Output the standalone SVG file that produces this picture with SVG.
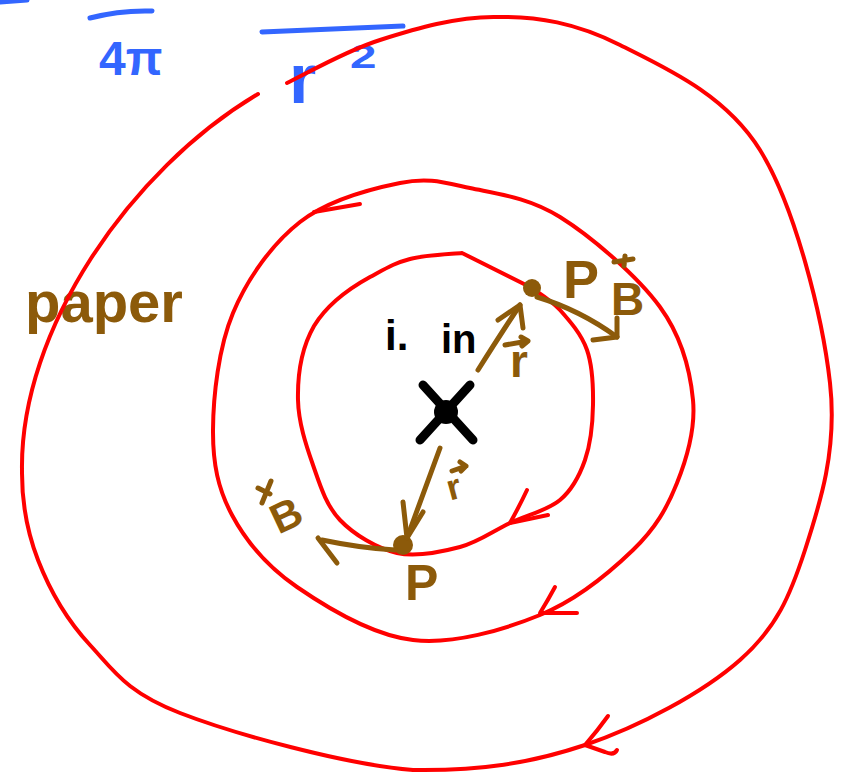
<svg xmlns="http://www.w3.org/2000/svg" width="843" height="776" viewBox="0 0 843 776">
<style>
.red{fill:none;stroke:#FF0000;stroke-width:4;stroke-linecap:round;stroke-linejoin:round}
.brn{fill:none;stroke:#8C5A0A;stroke-width:5;stroke-linecap:round;stroke-linejoin:round}
.blu{fill:none;stroke:#3366FF;stroke-width:5;stroke-linecap:round}
.tb{font-family:"Liberation Sans",Arial,sans-serif;fill:#8C5A0A;font-weight:bold}
.tl{font-family:"Liberation Sans",Arial,sans-serif;fill:#3366FF;font-weight:bold}
.tk{font-family:"Liberation Sans",Arial,sans-serif;fill:#000000;font-weight:bold}
</style>
<rect width="843" height="776" fill="#FFFFFF"/>
<g id="formula">
<path class="blu" d="M0,2 L27,0"/>
<path class="blu" d="M90,18 Q120,10 152,11"/>
<text class="tl" x="99" y="75" font-size="48">4π</text>
<path class="blu" d="M262,32 L403,26"/>
<text class="tl" x="289" y="103" font-size="70">r</text>
<text class="tl" x="350" y="68" font-size="34" transform="translate(350 0) scale(1.4 1) translate(-350 0)">2</text>
</g>
<g id="paper-label">
<text class="tb" x="25" y="322" font-size="58">paper</text>
</g>
<g id="field-lines">
<path id="outer" class="red" d="M287,83 C302.5,75.8 345,51 380,40 C415,29 457,16.2 497,17 C537,16.2 576.2,22.8 620,45 C663.8,67.2 725,93.7 760,150 C795,206.3 822.5,316.3 830,383 C837.5,449.7 820,503.8 805,550 C790,596.2 776.7,627.5 740,660 C703.3,692.5 639.5,726.7 585,745 C530.5,763.3 480,771 413,770 C345.5,764.7 233.8,733.8 180,713 C126.2,692.2 113.7,670.5 90,645 C66.3,619.5 49.3,589.2 38,560 C26.7,530.8 21.7,500 22,470 C20,330 130,170 258,94"/>
<path class="red" d="M608,716 Q598,730 585,745 L605,752 Q614,756 617,750"/>
<path id="middle" class="red" d="M400,183 C371.7,188.7 327.8,200.3 300,222 C272.2,243.7 247.5,278.3 233,313 C218.5,347.7 213.2,396.3 213,430 C212.8,463.7 218,488.8 232,515 C246,541.2 266.8,566.2 297,587 C327.2,607.8 372.5,635.3 413,640 C453.5,644.7 503.3,630 540,615 C576.7,600 610.2,572 633,550 C655.8,528 667,508 677,483 C687,458 695.8,429.3 693,400 C690.2,370.7 682.2,337.5 660,307 C637.8,276.5 591.7,236.8 560,217 C528.3,197.2 496.7,193.7 470,188 C443.3,182.3 428.3,177.3 400,183 Z"/>
<path class="red" d="M314,212 L360,204"/>
<path class="red" d="M555,587 Q548,600 540,613 L577,613"/>
<path id="inner" class="red" d="M462,253 L532,288 C536.7,291.7 550.8,299.7 560,310 C569.2,320.3 581.5,334.2 587,350 C592.5,365.8 593.3,386.7 593,405 C592.7,423.3 590.5,444.2 585,460 C579.5,475.8 572.5,489.5 560,500 C547.5,510.5 526.7,515.2 510,523 C493.3,530.8 478.8,542 460,547 C441.2,552 417,557.5 397,553 C377,548.5 354,534.7 340,520 C326,505.3 320,485 313,465 C306,445 298.5,422.5 298,400 C297.5,377.5 300,350.5 314,326 C328,303 350,288 370,277 C386.7,268 394.7,263 410,259 C425.3,255 453.3,254 462,253"/>
<path class="red" d="M527,490 Q520,505 510,523 L548,515"/>
</g>
<g id="point-top">
<circle cx="532" cy="288" r="9" fill="#8C5A0A"/>
<path class="brn" d="M478,370 Q500,335 520,305"/>
<path class="brn" d="M498,320 L520,305 L523,328"/>
<path class="brn" d="M537,297 Q580,310 617,337"/>
<path class="brn" d="M593,340 L617,337 L617,318"/>
<text class="tb" x="563" y="298" font-size="54">P</text>
<path class="brn" d="M614,262 L633,259 M625,256 L624,266"/>
<text class="tb" x="611" y="315" font-size="46">B</text>
<path class="brn" stroke-width="3" d="M505,345 L528,341 M521,337 L528,341 L522,346"/>
<text class="tb" x="510" y="377" font-size="46">r</text>
</g>
<g id="point-bottom">
<circle cx="403" cy="545" r="10" fill="#8C5A0A"/>
<path class="brn" d="M440,448 L407,538"/>
<path class="brn" d="M403,502 L407,538 L423,512"/>
<path class="brn" stroke-width="11" d="M395,550 Q360,548 322,540"/>
<path class="brn" stroke-width="6" d="M318,538 L337,563"/>
<text class="tb" x="405" y="600" font-size="50">P</text>
<path class="brn" stroke-width="3" d="M452,471 L466,466 M460,462 L466,466 L461,471"/>
<text class="tb" x="446" y="499" font-size="36" transform="rotate(-15 455 485)">r</text>
<path class="brn" stroke-width="4" d="M262,503 L271,481 M258,488 L270,494"/>
<text class="tb" x="270" y="530" font-size="42" transform="rotate(-25 285 513)">B</text>
</g>
<g id="wire">
<path fill="none" stroke="#000" stroke-width="9" stroke-linecap="round" d="M423,385 L473,440 M470,385 L420,440"/>
<circle cx="446" cy="412" r="12" fill="#000"/>
<text class="tk" x="385" y="350" font-size="42">i.</text>
<text class="tk" x="441" y="353" font-size="40">in</text>
</g>
</svg>
